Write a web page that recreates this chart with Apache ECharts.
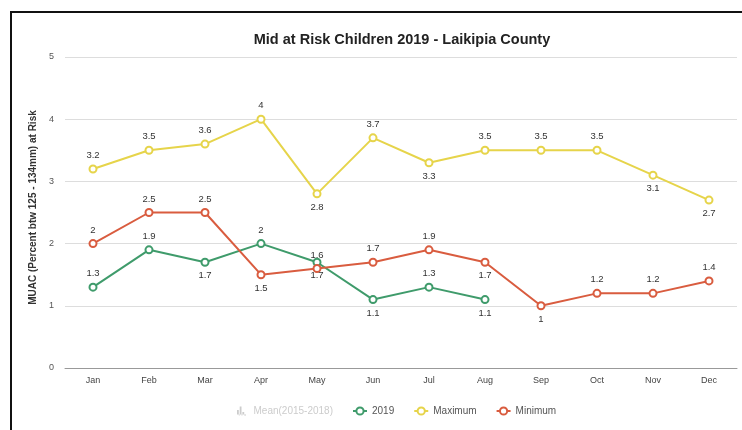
<!DOCTYPE html>
<html>
<head>
<meta charset="utf-8">
<script src="https://cdn.jsdelivr.net/npm/echarts@6/dist/echarts.min.js"></script>
<style>
  html, body { margin: 0; padding: 0; background: #fff; }
  #chart { width: 742px; height: 430px; }
</style>
</head>
<body>
<div id="chart"></div>
<script>
// Monthly MUAC at-risk percentages, Laikipia County
var months = ['Jan', 'Feb', 'Mar', 'Apr', 'May', 'Jun', 'Jul', 'Aug', 'Sep', 'Oct', 'Nov', 'Dec'];
var mean20152018 = [];
var values2019 = [1.3, 1.9, 1.7, 2, 1.7, 1.1, 1.3, 1.1, null, null, null, null];
var maximum = [3.2, 3.5, 3.6, 4, 2.8, 3.7, 3.3, 3.5, 3.5, 3.5, 3.1, 2.7];
var minimum = [2, 2.5, 2.5, 1.5, 1.6, 1.7, 1.9, 1.7, 1, 1.2, 1.2, 1.4];

var FONT = '"Liberation Sans", Arial, sans-serif';

// Value labels sit under a point when the line drops into it, above otherwise
function withLabels(arr) {
  return arr.map(function (v, i) {
    if (v === null) return null;
    var prev = i > 0 ? arr[i - 1] : null;
    var below = prev !== null && v < prev;
    return { value: v, label: { position: below ? 'bottom' : 'top' } };
  });
}

function lineSeries(name, data, color) {
  return {
    name: name,
    type: 'line',
    data: withLabels(data),
    connectNulls: false,
    symbol: 'emptyCircle',
    symbolSize: 7,
    lineStyle: { width: 2, color: color },
    itemStyle: { color: color, borderWidth: 1.5 },
    label: {
      show: true,
      fontSize: 9.5,
      color: '#333',
      fontFamily: FONT,
      distance: 4
    },
    emphasis: { disabled: true }
  };
}

var chart = echarts.init(document.getElementById('chart'), null, { renderer: 'canvas' });
chart.setOption({
  animation: false,
  backgroundColor: '#fff',
  textStyle: { fontFamily: FONT },
  graphic: [
    {
      type: 'rect',
      shape: { x: 11, y: 12, width: 900, height: 600 },
      style: { fill: 'none', stroke: '#111', lineWidth: 2 },
      silent: true
    },
    {
      type: 'text',
      x: 402,
      y: 32,
      style: {
        text: 'Mid at Risk Children 2019 - Laikipia County',
        fontSize: 14.5,
        fontWeight: 'bold',
        fill: '#222',
        fontFamily: FONT,
        textAlign: 'center'
      },
      silent: true
    }
  ],
  legend: {
    left: 232,
    top: 401,
    itemWidth: 14,
    itemHeight: 9,
    itemGap: 19,
    textStyle: { fontSize: 10, color: '#555', fontFamily: FONT },
    inactiveColor: '#ccc',
    data: [
      { name: 'Mean(2015-2018)', icon: 'path://M0,10L0,4L2,4L2,10ZM3,10L3,0L5,0L5,10ZM6,10L6,6L8,6L8,10ZM0,10L10,10L10,9L0,9Z' },
      '2019', 'Maximum', 'Minimum'
    ],
    selected: { 'Mean(2015-2018)': false }
  },
  grid: { left: 65, right: 5, top: 57, bottom: 62 },
  xAxis: {
    type: 'category',
    data: months,
    boundaryGap: true,
    axisLine: { lineStyle: { color: '#999', width: 1 } },
    axisTick: { show: false },
    axisLabel: { fontSize: 9, color: '#444', margin: 8 }
  },
  yAxis: {
    type: 'value',
    min: 0,
    max: 5,
    interval: 1,
    name: 'MUAC (Percent btw 125 - 134mm) at Risk',
    nameLocation: 'middle',
    nameGap: 16,
    nameTextStyle: { fontSize: 10, fontWeight: 'bold', color: '#333', padding: [0, 0, 0, 10] },
    axisLine: { show: false },
    axisTick: { show: false },
    axisLabel: { fontSize: 9, color: '#555', margin: 11 },
    splitLine: { lineStyle: { color: '#ddd', width: 1 } }
  },
  series: [
    {
      name: 'Mean(2015-2018)',
      type: 'bar',
      data: mean20152018,
      itemStyle: { color: '#9ab' }
    },
    lineSeries('2019', values2019, '#3f9b6b'),
    lineSeries('Maximum', maximum, '#e6d44a'),
    lineSeries('Minimum', minimum, '#d95c3f')
  ]
});
</script>
</body>
</html>
